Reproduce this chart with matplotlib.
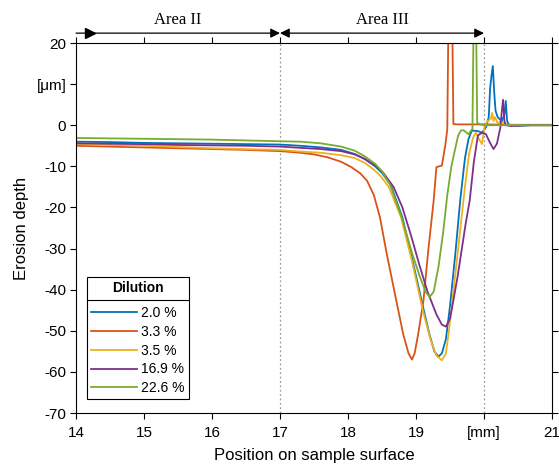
''' erosion depth profiles along sample surface'''

#%% import and data

import numpy as np
import matplotlib
matplotlib.use('Agg')
import matplotlib.pyplot as plt
from matplotlib.lines import Line2D

plt.rcParams['font.family'] = ['Liberation Sans', 'DejaVu Sans']

labels = ['2.0 %', '3.3 %', '3.5 %', '16.9 %', '22.6 %']
colors = ['#0072BD', '#D95319', '#EDB120', '#7E2F8E', '#77AC30']

# 2.0 %
x_20 = [14.0, 14.5, 15.0, 15.5, 16.0, 16.5, 17.0, 17.3, 17.6, 17.9, 18.1, 18.25, 18.4, 18.5, 18.63,
        18.8, 18.95, 19.1, 19.2, 19.27, 19.33, 19.38, 19.44, 19.5, 19.58, 19.65, 19.72, 19.77,
        19.82, 19.9, 19.97, 20.03, 20.07, 20.09, 20.11, 20.13, 20.15, 20.17, 20.2, 20.26, 20.3,
        20.32, 20.34, 20.37, 20.5, 20.7, 21.0]
y_20 = [-4.0, -4.1, -4.3, -4.4, -4.5, -4.6, -4.7, -5.0, -5.4, -6.0, -7.0, -8.3, -10.0, -11.6, -14.6,
        -22.4, -33.0, -44.0, -51.0, -55.0, -56.3, -55.5, -52.0, -44.0, -31.0, -18.3, -8.0, -3.5,
        -1.3, -1.4, -1.8, -0.5, 2.0, 9.0, 12.0, 14.4, 8.0, 3.5, 2.0, 1.0, 2.5,
        5.9, 1.0, 0.0, -0.2, 0.0, 0.0]

# 3.3 %
x_33 = [14.0, 14.5, 15.0, 15.5, 16.0, 16.5, 17.0, 17.3, 17.5, 17.7, 17.9, 18.05, 18.18, 18.28,
        18.38, 18.47, 18.57, 18.67, 18.81, 18.89, 18.94, 18.98, 19.03, 19.11, 19.18, 19.26, 19.3,
        19.38, 19.43, 19.46, 19.48, 19.53, 19.55, 19.6, 20.0, 20.5, 21.0]
y_33 = [-5.0, -5.2, -5.4, -5.6, -5.8, -6.0, -6.3, -6.7, -7.1, -7.8, -8.9, -10.2, -11.7, -13.5,
        -17.0, -22.4, -31.3, -39.4, -50.7, -55.5, -57.0, -55.5, -51.0, -42.6, -30.5, -18.3, -10.2,
        -9.8, -5.0, -1.0, 30.0, 30.0, 0.3, 0.2, 0.2, 0.1, 0.1]

# 3.5 %
x_35 = [14.0, 14.5, 15.0, 15.5, 16.0, 16.5, 17.0, 17.3, 17.6, 17.9, 18.1, 18.25, 18.38, 18.48, 18.6,
        18.78, 18.94, 19.1, 19.22, 19.3, 19.38, 19.44, 19.5, 19.58, 19.66, 19.72, 19.78, 19.84,
        19.88, 19.93, 19.97, 20.01, 20.05, 20.1, 20.12, 20.14, 20.16, 20.2, 20.25, 20.3, 20.35,
        20.5, 21.0]
y_35 = [-4.6, -4.8, -5.0, -5.3, -5.6, -5.8, -6.0, -6.4, -6.7, -7.3, -8.0, -9.2, -10.8, -12.4, -15.0,
        -22.4, -33.0, -45.0, -52.5, -56.0, -57.2, -55.5, -48.0, -36.0, -24.0, -15.0, -7.0, -3.0,
        -1.8, -3.5, -4.6, -0.2, 1.0, 1.5, 3.0, 1.0, 2.0, 0.5, 1.0, 0.3, 0.0,
        0.0, 0.0]

# 16.9 %
x_169 = [14.0, 14.5, 15.0, 15.5, 16.0, 16.5, 17.0, 17.3, 17.6, 17.9, 18.1, 18.25, 18.4, 18.52, 18.67,
         18.8, 18.93, 19.05, 19.17, 19.3, 19.38, 19.44, 19.5, 19.55, 19.61, 19.67, 19.73, 19.79, 19.85,
         19.91, 19.97, 20.03, 20.08, 20.14, 20.19, 20.24, 20.26, 20.28, 20.3, 20.32, 20.4, 20.6,
         21.0]
y_169 = [-4.4, -4.5, -4.6, -4.8, -4.9, -5.0, -5.2, -5.5, -5.8, -6.3, -7.1, -8.2, -9.8, -11.6, -15.0,
         -20.0, -27.0, -34.0, -40.5, -46.0, -48.5, -49.0, -47.0, -42.6, -37.0, -30.5, -24.0, -18.3, -9.0,
         -2.5, -1.8, -2.2, -4.0, -5.8, -4.5, -0.6, 3.0, 6.2, 1.0, 0.0, -0.2, 0.0,
         0.0]

# 22.6 %
x_226 = [14.0, 14.5, 15.0, 15.5, 16.0, 16.5, 17.0, 17.3, 17.6, 17.9, 18.1, 18.25, 18.4, 18.5, 18.62,
         18.79, 18.94, 19.05, 19.14, 19.2, 19.26, 19.33, 19.4, 19.46, 19.52, 19.57, 19.62, 19.66,
         19.7, 19.77, 19.83, 19.85, 19.88, 19.9, 19.94, 20.0, 20.5, 21.0]
y_226 = [-3.1, -3.2, -3.3, -3.4, -3.5, -3.7, -3.9, -4.0, -4.4, -5.2, -6.2, -7.6, -9.4, -11.2, -14.5,
         -22.4, -31.0, -36.5, -40.5, -41.8, -40.5, -34.5, -26.0, -17.0, -10.0, -6.2, -2.5, -1.3,
         -1.2, -2.2, -0.9, 30.0, 30.0, 0.6, 0.2, 0.0, 0.0, 0.0]

xs = [x_20, x_33, x_35, x_169, x_226]
ys = [y_20, y_33, y_35, y_169, y_226]

area_bounds = [14, 17, 20]
area_names = ['Area II', 'Area III']

xticks = [14, 15, 16, 17, 18, 19, 20, 21]
xticklabels = ['14', '15', '16', '17', '18', '19', '[mm]', '21']
yticks = [-70, -60, -50, -40, -30, -20, -10, 0, 10, 20]
yticklabels = ['-70', '-60', '-50', '-40', '-30', '-20', '-10', '0', '[\u03bcm]', '20']

#%% plot

fig = plt.figure(figsize=(5.59, 4.65), dpi=100)
ax = fig.add_axes([76/559, 1-413/465, 476/559, 370/465])

for x, y, c, l in zip(xs, ys, colors, labels):
    ax.plot(x, y, color=c, lw=1.3, label=l)

for b in area_bounds[1:]:
    ax.axvline(b, color='#9a9a9a', ls=(0, (1.5, 2)), lw=0.9, zorder=0)

ax.set_xlim(14, 21)
ax.set_ylim(-70, 20)
ax.set_xticks(xticks)
ax.set_xticklabels(xticklabels)
ax.set_yticks(yticks)
ax.set_yticklabels(yticklabels)
ax.tick_params(direction='out', length=4, width=0.8, labelsize=11,
               top=True, right=True)
ax.tick_params(axis='x', pad=5)
ax.tick_params(axis='y', pad=3)
for s in ax.spines.values():
    s.set_linewidth(0.8)

ax.set_xlabel('Position on sample surface', fontsize=12, labelpad=6)
ax.set_ylabel('Erosion depth', fontsize=12, labelpad=5)

# area arrows above the axes
yarr = 22.4
ax.annotate('', xy=(area_bounds[1], yarr), xytext=(area_bounds[0], yarr),
            arrowprops=dict(arrowstyle='-|>', color='k', lw=0.9,
                            mutation_scale=14, shrinkA=0, shrinkB=0),
            annotation_clip=False)
ax.plot([area_bounds[0] + 0.2], [yarr], marker='>', color='k', ms=7, clip_on=False)
ax.annotate('', xy=(area_bounds[2], yarr), xytext=(area_bounds[1], yarr),
            arrowprops=dict(arrowstyle='<|-|>', color='k', lw=0.9,
                            mutation_scale=14, shrinkA=0, shrinkB=0),
            annotation_clip=False)
for i, name in enumerate(area_names):
    ax.text((area_bounds[i] + area_bounds[i+1]) / 2, 25.6, name, ha='center', va='center',
            fontsize=12, family=['Liberation Serif', 'DejaVu Serif'])

leg = ax.legend(title='Dilution', loc='upper left',
                bbox_to_anchor=(87/559, 1-277/465), bbox_transform=fig.transFigure,
                borderaxespad=0, fancybox=False, edgecolor='k', framealpha=1,
                fontsize=10, handlelength=3.3, handletextpad=0.3, labelspacing=0.34,
                borderpad=0.3)
leg.get_title().set_fontweight('bold')
leg.get_title().set_fontsize(10)
leg.get_frame().set_linewidth(0.8)
leg._legend_box.sep = 8

# separator line below legend title
fig.canvas.draw()
r = fig.canvas.get_renderer()
fb = leg.get_frame().get_window_extent(r)
tb = leg.get_title().get_window_extent(r)
ysep = (tb.y0 - 5) / fig.bbox.height
fig.add_artist(Line2D([fb.x0 / fig.bbox.width, fb.x1 / fig.bbox.width], [ysep, ysep],
                      color='k', lw=0.8, transform=fig.transFigure))

fig.savefig('out.png', dpi=100)
